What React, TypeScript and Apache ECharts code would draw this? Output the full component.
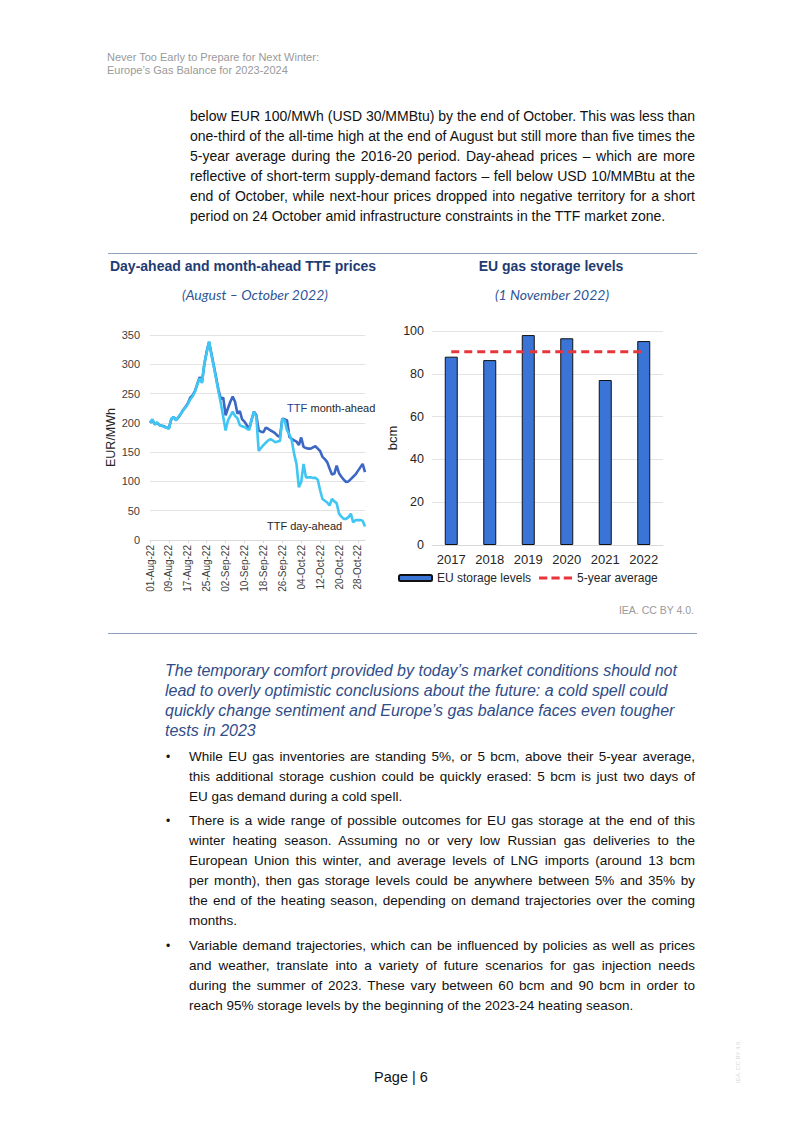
import React, { useEffect, useRef } from "react";
import * as echarts from "echarts";

const FONT = '"Liberation Sans", Arial, Helvetica, sans-serif';
const SUBFONT = 'Lato, "Open Sans", sans-serif';

const months = ["Aug", "Sep", "Oct"];
const monthLengths = [31, 30, 31];
const dates: string[] = [];
months.forEach((m, i) => {
  for (let d = 1; d <= monthLengths[i]; d++) {
    dates.push(`${String(d).padStart(2, "0")}-${m}-22`);
  }
});

const monthAhead = [
  200, 205, 198, 200, 196, 195, 194, 192, 191, 206,
  210, 205, 209, 215, 222, 227, 233, 243, 247, 254,
  266, 278, 270, 300, 322, 338, 318, 298, 277, 256,
  241, 243, 213, 225, 236, 245, 236, 216, 220, 206,
  202, 196, 190, 205, 219, 213, 187, 185, 184, 192,
  190, 187, 185, 182, 178, 176, 207, 206, 204, 176,
  173, 170, 168, 162, 175, 159, 157, 156, 156, 158,
  160, 156, 152, 142, 138, 133, 122, 112, 113, 127,
  114, 108, 103, 99, 100, 104, 108, 112, 118, 124,
  130, 116,
];

const dayAhead = [
  200, 206, 197, 201, 196, 195, 193, 192, 190, 207,
  210, 204, 210, 215, 221, 226, 232, 240, 245, 253,
  265, 276, 268, 301, 320, 339, 316, 296, 275, 253,
  233, 210, 187, 204, 212, 219, 212, 208, 196, 194,
  193, 190, 188, 205, 219, 210, 152, 157, 162, 166,
  170, 172, 170, 167, 168, 169, 207, 204, 187, 180,
  170, 147, 130, 90, 99, 130, 107, 107, 107, 106,
  106, 103, 85, 70, 67, 64, 59, 70, 66, 63,
  45, 40, 36, 36, 39, 45, 30, 34, 34, 34,
  33, 23,
];

const years = ["2017", "2018", "2019", "2020", "2021", "2022"];
const storageLevels = [88.0, 86.4, 98.1, 96.6, 77.1, 95.3];
const fiveYearAverage = [90.3, 90.3, 90.3, 90.3, 90.3, 90.3];

const priceTicks = { min: 0, max: 350, interval: 50 };
const storageTicks = { min: 0, max: 100, interval: 20 };

const para1 = [
  "below EUR 100/MWh (USD 30/MMBtu) by the end of October. This was less than",
  "one-third of the all-time high at the end of August but still more than five times the",
  "5-year average during the 2016-20 period. Day-ahead prices – which are more",
  "reflective of short-term supply-demand factors – fell below USD 10/MMBtu at the",
  "end of October, while next-hour prices dropped into negative territory for a short",
  "period on 24 October amid infrastructure constraints in the TTF market zone.",
];

const heading = [
  "The temporary comfort provided by today’s market conditions should not",
  "lead to overly optimistic conclusions about the future: a cold spell could",
  "quickly change sentiment and Europe’s gas balance faces even tougher",
  "tests in 2023",
];

const bullets = [
  {
    top: 747,
    lines: [
      "While EU gas inventories are standing 5%, or 5 bcm, above their 5-year average,",
      "this additional storage cushion could be quickly erased: 5 bcm is just two days of",
      "EU gas demand during a cold spell.",
    ],
  },
  {
    top: 811,
    lines: [
      "There is a wide range of possible outcomes for EU gas storage at the end of this",
      "winter heating season. Assuming no or very low Russian gas deliveries to the",
      "European Union this winter, and average levels of LNG imports (around 13 bcm",
      "per month), then gas storage levels could be anywhere between 5% and 35% by",
      "the end of the heating season, depending on demand trajectories over the coming",
      "months.",
    ],
  },
  {
    top: 936,
    lines: [
      "Variable demand trajectories, which can be influenced by policies as well as prices",
      "and weather, translate into a variety of future scenarios for gas injection needs",
      "during the summer of 2023. These vary between 60 bcm and 90 bcm in order to",
      "reach 95% storage levels by the beginning of the 2023-24 heating season.",
    ],
  },
];

function JustifiedLines({ lines, fontSize }: { lines: string[]; fontSize: number }) {
  return (
    <>
      {lines.map((l, i) => {
        const last = i === lines.length - 1;
        return (
          <div
            key={i}
            style={{
              height: 20,
              lineHeight: "20px",
              fontSize,
              textAlign: last ? "left" : "justify",
              textAlignLast: last ? "left" : "justify",
              whiteSpace: "nowrap",
            } as React.CSSProperties}
          >
            {l}
          </div>
        );
      })}
    </>
  );
}

function Charts() {
  const ref = useRef<HTMLDivElement>(null);
  useEffect(() => {
    if (!ref.current) return;
    const chart = echarts.init(ref.current, undefined, { renderer: "svg" });
    const navy = "#1F3B73";
    const option: any = {
      animation: false,
      textStyle: { fontFamily: FONT },
      grid: [
        { left: 50, top: 90, width: 215, height: 205 },
        { left: 332, top: 86, width: 231, height: 214 },
      ],
      xAxis: [
        {
          type: "category",
          gridIndex: 0,
          data: dates,
          boundaryGap: false,
          axisLine: { lineStyle: { color: "#D9D9D9" } },
          axisTick: { show: true, interval: 7, length: 3, lineStyle: { color: "#D9D9D9" } },
          axisLabel: { interval: 7, rotate: 90, fontSize: 10, color: "#404040", margin: 5, fontFamily: FONT },
        },
        {
          type: "category",
          gridIndex: 1,
          data: years,
          axisLine: { lineStyle: { color: "#D9D9D9" } },
          axisTick: { show: false },
          axisLabel: { fontSize: 13, color: "#262626", margin: 8, fontFamily: FONT },
        },
      ],
      yAxis: [
        {
          type: "value",
          gridIndex: 0,
          min: priceTicks.min,
          max: priceTicks.max,
          interval: priceTicks.interval,
          name: "EUR/MWh",
          nameLocation: "middle",
          nameGap: 29,
          nameRotate: 90,
          nameTextStyle: { fontSize: 12.5, color: "#262626", fontFamily: FONT },
          axisLabel: { fontSize: 11, color: "#404040", margin: 10, fontFamily: FONT },
          axisLine: { show: false },
          axisTick: { show: false },
          splitLine: { lineStyle: { color: "#E3E3E3" } },
        },
        {
          type: "value",
          gridIndex: 1,
          min: storageTicks.min,
          max: storageTicks.max,
          interval: storageTicks.interval,
          name: "bcm",
          nameLocation: "middle",
          nameGap: 31,
          nameRotate: 90,
          nameTextStyle: { fontSize: 13, color: "#262626", fontFamily: FONT },
          axisLabel: { fontSize: 12.5, color: "#262626", margin: 8, fontFamily: FONT },
          axisLine: { show: false },
          axisTick: { show: false },
          splitLine: { lineStyle: { color: "#E3E3E3" } },
        },
      ],
      legend: {
        data: [
          { name: "EU storage levels" },
          {
            name: "5-year average",
            icon: "path://M0,0H8V3H0Z M12,0H20V3H12Z M24,0H32V3H24Z",
            itemStyle: { color: "#E8353B", borderWidth: 0 },
          },
        ],
        left: 298,
        top: 327,
        padding: 0,
        itemWidth: 33,
        itemHeight: 6,
        itemGap: 8,
        textStyle: { fontSize: 12, color: "#262626", fontFamily: FONT },
      },
      series: [
        {
          name: "TTF month-ahead",
          type: "line",
          xAxisIndex: 0,
          yAxisIndex: 0,
          data: monthAhead,
          showSymbol: false,
          symbol: "none",
          lineStyle: { color: "#3C67C4", width: 2.6 },
          itemStyle: { color: "#3C67C4" },
        },
        {
          name: "TTF day-ahead",
          type: "line",
          xAxisIndex: 0,
          yAxisIndex: 0,
          data: dayAhead,
          showSymbol: false,
          symbol: "none",
          lineStyle: { color: "#3FC6F2", width: 2.6 },
          itemStyle: { color: "#3FC6F2" },
        },
        {
          name: "EU storage levels",
          type: "bar",
          xAxisIndex: 1,
          yAxisIndex: 1,
          data: storageLevels,
          barWidth: 13,
          itemStyle: { color: "#3A74D6", borderColor: "#111", borderWidth: 1 },
        },
        {
          name: "5-year average",
          type: "line",
          xAxisIndex: 1,
          yAxisIndex: 1,
          data: fiveYearAverage,
          showSymbol: false,
          symbol: "none",
          lineStyle: { color: "#E8353B", width: 3, type: [8, 5] },
          itemStyle: { color: "#E8353B" },
        },
      ],
      graphic: [
        {
          type: "text",
          x: 143,
          y: 21,
          style: {
            text: "Day-ahead and month-ahead TTF prices",
            fill: navy,
            font: `bold 14px ${FONT}`,
            textAlign: "center",
            textVerticalAlign: "middle",
          },
        },
        {
          type: "text",
          x: 155,
          y: 49,
          style: {
            text: "(August – October 2022)",
            fill: "#2F5597",
            font: `italic 14px ${SUBFONT}`,
            textAlign: "center",
            textVerticalAlign: "middle",
          },
        },
        {
          type: "text",
          x: 451,
          y: 21,
          style: {
            text: "EU gas storage levels",
            fill: navy,
            font: `bold 14px ${FONT}`,
            textAlign: "center",
            textVerticalAlign: "middle",
          },
        },
        {
          type: "text",
          x: 452,
          y: 49,
          style: {
            text: "(1 November 2022)",
            fill: "#2F5597",
            font: `italic 14px ${SUBFONT}`,
            textAlign: "center",
            textVerticalAlign: "middle",
          },
        },
        {
          type: "text",
          x: 187,
          y: 163,
          style: {
            text: "{a|TTF} {b|month-ahead}",
            textVerticalAlign: "middle",
            rich: {
              a: { fill: "#1F3B8F", fontSize: 11, fontFamily: FONT },
              b: { fill: "#262626", fontSize: 11, fontFamily: FONT },
            },
          },
        },
        {
          type: "text",
          x: 167,
          y: 281,
          style: {
            text: "TTF day-ahead",
            fill: "#262626",
            font: `11px ${FONT}`,
            textVerticalAlign: "middle",
          },
        },
      ],
    };
    chart.setOption(option);
    return () => chart.dispose();
  }, []);
  return (
    <div
      ref={ref}
      style={{ position: "absolute", left: 100, top: 245, width: 600, height: 380 }}
    />
  );
}

export default function App() {
  const bodyColor = "#111";
  return (
    <div
      style={{
        position: "absolute",
        left: 0,
        top: 0,
        width: 802,
        height: 1133,
        background: "#fff",
        fontFamily: FONT,
        color: bodyColor,
        overflow: "hidden",
      }}
    >
      <div
        style={{
          position: "absolute",
          left: 107,
          top: 51,
          fontSize: 11,
          lineHeight: "13px",
          color: "#9a9a9a",
        }}
      >
        <div>Never Too Early to Prepare for Next Winter:</div>
        <div>Europe’s Gas Balance for 2023-2024</div>
      </div>

      <div style={{ position: "absolute", left: 190, top: 106, width: 505 }}>
        <JustifiedLines lines={para1} fontSize={14} />
      </div>

      <div style={{ position: "absolute", left: 108, top: 253, width: 589, height: 1, background: "#8FA1BF" }} />

      <Charts />

      <div
        style={{
          position: "absolute",
          right: 802 - 694,
          top: 604,
          fontSize: 10.5,
          color: "#9a9a9a",
        }}
      >
        IEA. CC BY 4.0.
      </div>

      <div style={{ position: "absolute", left: 108, top: 633, width: 589, height: 1, background: "#8FA1BF" }} />

      <div
        style={{
          position: "absolute",
          left: 165,
          top: 661,
          fontSize: 16,
          lineHeight: "20px",
          fontStyle: "italic",
          color: "#2F4D89",
          whiteSpace: "nowrap",
        }}
      >
        {heading.map((l, i) => (
          <div key={i}>{l}</div>
        ))}
      </div>

      {bullets.map((b, i) => (
        <React.Fragment key={i}>
          <div
            style={{
              position: "absolute",
              left: 166,
              top: b.top,
              fontSize: 12,
              lineHeight: "20px",
            }}
          >
            •
          </div>
          <div style={{ position: "absolute", left: 189, top: b.top, width: 506 }}>
            <JustifiedLines lines={b.lines} fontSize={13.5} />
          </div>
        </React.Fragment>
      ))}

      <div
        style={{
          position: "absolute",
          left: 0,
          width: 802,
          top: 1067,
          textAlign: "center",
          fontSize: 14.5,
          lineHeight: "20px",
          color: "#111",
        }}
      >
        Page | 6
      </div>

      <div
        style={{
          position: "absolute",
          left: 735,
          top: 1040,
          fontSize: 6,
          color: "#d8d8d8",
          writingMode: "vertical-rl",
          transform: "rotate(180deg)",
        } as React.CSSProperties}
      >
        IEA. CC BY 4.0.
      </div>
    </div>
  );
}
